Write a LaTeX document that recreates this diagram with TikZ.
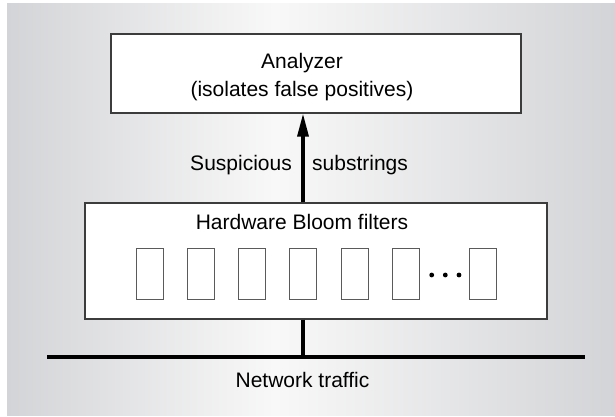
\documentclass[tikz,border=0pt]{standalone}
\usepackage{fontspec}
\setmainfont{Liberation Sans}
\usetikzlibrary{arrows.meta}

\definecolor{panelgrey}{RGB}{211,212,215}
\definecolor{panellight}{RGB}{248,248,248}
\definecolor{edgegrey}{RGB}{60,60,60}
\definecolor{filtergrey}{RGB}{90,90,90}

\pgfdeclarehorizontalshading{panel}{100bp}{color(0bp)=(panelgrey); color(25bp)=(panelgrey); color(47bp)=(panellight); color(75bp)=(panelgrey); color(100bp)=(panelgrey)}

\tikzset{
    box/.style={draw=edgegrey, line width=1.2pt, fill=white, inner sep=0pt},
    filter/.style={draw=filtergrey, line width=1pt, fill=white, inner sep=0pt,
        minimum width=27pt, minimum height=51pt},
    lbl/.style={inner sep=0pt, font=\fontsize{21}{28}\selectfont},
    bus/.style={line width=3.3pt}
}

\begin{document}
\begin{tikzpicture}[x=1pt,y=-1pt]
    \useasboundingbox (0,0) rectangle (615,417);
    \shade[shading=panel] (7,4) rectangle (615,415);

    % analyzer on top
    \node[box, minimum width=410pt, minimum height=79pt] (analyzer) at (316,73.5) {};
    \node[lbl, align=center, anchor=base] (analyzertext) at (302,96.7)
        {Analyzer\\(isolates false positives)};

    % bloom filter bank
    \node[box, minimum width=462pt, minimum height=116pt] (bloom) at (316,261) {};
    \node[lbl, anchor=base] (bloomtext) at (302,229) {Hardware Bloom filters};
    \foreach \i in {1,...,6}
        \node[filter] (f\i) at ({149.5+51.3*(\i-1)},273.5) {};
    \node[filter] (f7) at (482.5,273.5) {};
    \foreach \x in {431.7,445.3,459}
        \fill (\x,275) circle (2.4pt);

    % network bus and tap
    \coordinate (netL) at (47,357);
    \coordinate (netR) at (585,357);
    \coordinate (tap) at (303,357);
    \draw[bus] (netL) -- (netR);
    \draw[bus] (bloom.south -| tap) -- (tap);
    \node[lbl, anchor=base] (nettext) at (302.5,387) {Network traffic};

    % suspicious substrings go up
    \draw[bus, -{Triangle[length=23pt,width=11pt]}] (bloom.north -| tap) -- (analyzer.south -| tap);
    \node[lbl, anchor=base east] (susp) at (292,170) {Suspicious};
    \node[lbl, anchor=base west] (substr) at (312,170) {substrings};
\end{tikzpicture}
\end{document}
